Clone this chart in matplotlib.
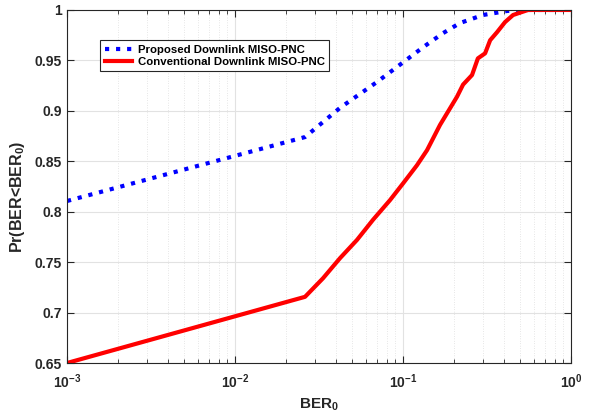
import numpy as np
import matplotlib
matplotlib.use("Agg")
import matplotlib.pyplot as plt
from matplotlib.ticker import LogLocator, NullFormatter

plt.rcParams['font.family'] = 'Liberation Sans'
plt.rcParams['font.weight'] = 'bold'
plt.rcParams['mathtext.fontset'] = 'custom'
plt.rcParams['mathtext.rm'] = 'Liberation Sans:bold'
plt.rcParams['mathtext.it'] = 'Liberation Sans:bold'
plt.rcParams['mathtext.bf'] = 'Liberation Sans:bold'
plt.rcParams['mathtext.default'] = 'regular'

# proposed scheme
ber_prop = [0.001, 0.0261, 0.0422, 0.070, 0.1, 0.1315, 0.173, 0.218, 0.299, 0.416, 0.547, 1.0]
pr_prop = [0.8106, 0.874, 0.903, 0.9286, 0.948, 0.963, 0.977, 0.987, 0.995, 0.999, 1.0, 1.0]

# conventional scheme
ber_conv = [0.001, 0.0261, 0.0334, 0.0422, 0.0532, 0.0663, 0.0837, 0.1, 0.121, 0.139,
            0.166, 0.2096, 0.2277, 0.2575, 0.279, 0.308, 0.330, 0.363, 0.405, 0.452,
            0.511, 0.555, 1.0]
pr_conv = [0.65, 0.7156, 0.734, 0.754, 0.772, 0.792, 0.8115, 0.828, 0.846, 0.861,
           0.886, 0.914, 0.926, 0.9355, 0.952, 0.957, 0.970, 0.978, 0.988, 0.995,
           0.998, 1.0, 1.0]

dark = '#262626'

fig = plt.figure(figsize=(5.91, 4.15), dpi=100)
ax = fig.add_axes([0.1134, 0.1253, 0.8528, 0.8507])

ax.plot(ber_prop, pr_prop, ':', color='#0000ff', lw=3, label='Proposed Downlink MISO-PNC')
ax.plot(ber_conv, pr_conv, '-', color='#ff0000', lw=3, label='Conventional Downlink MISO-PNC')

ax.set_xscale('log')
ax.set_xlim(1e-3, 1)
ax.set_ylim(0.65, 1)
ax.set_yticks([0.65, 0.7, 0.75, 0.8, 0.85, 0.9, 0.95, 1])
ax.set_yticklabels(['0.65', '0.7', '0.75', '0.8', '0.85', '0.9', '0.95', '1'])
ax.xaxis.set_minor_locator(LogLocator(base=10, subs=np.arange(2, 10)))
ax.xaxis.set_minor_formatter(NullFormatter())

ax.grid(True, which='major', color='#e2e2e2', lw=0.8)
ax.grid(True, which='minor', axis='x', color='#d0d0d0', lw=0.5, ls=(0, (1, 2.5)))
ax.set_axisbelow(True)

ax.tick_params(which='both', direction='in', top=True, right=True, colors=dark,
               labelsize=10)
ax.tick_params(which='major', length=5)
ax.tick_params(which='minor', length=3)
ax.tick_params(axis='x', pad=7)
for s in ax.spines.values():
    s.set_color(dark)
    s.set_linewidth(0.8)

ax.set_xlabel('BER$_0$', fontsize=11, fontweight='bold', color=dark, labelpad=4)
ax.set_ylabel('Pr(BER<BER$_0$)', fontsize=11.5, fontweight='bold', color=dark)
ax.yaxis.set_label_coords(-0.08, 0.47)

leg = ax.legend(loc='upper left', bbox_to_anchor=(0.0655, 0.915), borderaxespad=0,
                fontsize=8.2, frameon=True, fancybox=False, edgecolor=dark,
                handlelength=2.45, borderpad=0.4, labelspacing=0.2, handletextpad=0.45,
                framealpha=1)
leg.get_frame().set_linewidth(0.8)

fig.savefig('out.png', dpi=100)
